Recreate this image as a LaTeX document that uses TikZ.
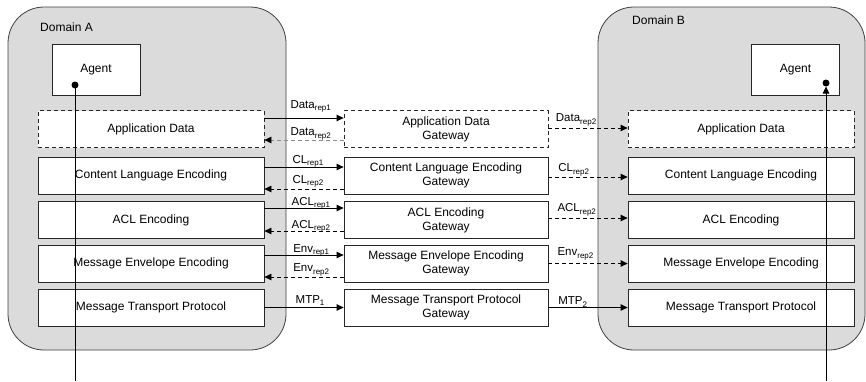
\documentclass[tikz,border=0pt]{standalone}
\usepackage{fontspec}
\setmainfont{Liberation Sans}
\usetikzlibrary{arrows.meta}
% lowered small subscript used in the message labels
\newcommand\rsub[1]{\raisebox{-2.5pt}{\fontsize{8}{8}\selectfont #1}}
\begin{document}
\begin{tikzpicture}[x=1pt,y=-1pt,
  platform/.style={draw=black!75, fill=black!14, line width=0.8pt, rounded corners=36pt},
  domlabel/.style={anchor=west, inner sep=0pt, font=\fontsize{12}{14}\selectfont},
  layer/.style={draw=black!85, fill=white, line width=0.8pt, minimum width=226pt,
    minimum height=37pt, inner sep=0pt, font=\fontsize{12}{14}\selectfont},
  gate/.style={layer, minimum width=204pt, align=center},
  dlayer/.style={dash pattern=on 4pt off 3pt},
  agentbox/.style={draw=black!85, fill=white, line width=0.8pt, minimum width=88pt,
    minimum height=51pt, inner sep=0pt, font=\fontsize{12}{14}\selectfont},
  req/.style={-{Triangle[length=7pt,width=6.5pt]}, line width=0.8pt},
  rep/.style={req, dash pattern=on 4pt off 3pt},
  greyrep/.style={-{Triangle[length=7pt,width=6.5pt,color=black,fill=black]}, line width=0.8pt,
    dash pattern=on 4pt off 3pt, draw=black!45},
  lbl/.style={anchor=base west, inner sep=0pt, font=\fontsize{11.5}{12}\selectfont},
]
\useasboundingbox (0,0) rectangle (866,381);

% the two platform domains
\draw[platform] (8,7) rectangle (286,350);
\draw[platform] (598,7) rectangle (865,350);
\node[domlabel] (dA) at (40,27) {Domain A};
\node[domlabel] (dB) at (632,20.5) {Domain B};

% agents
\node[agentbox] (agA) at (96,69.5) {Agent};
\node[agentbox] (agB) at (795.5,69.5) {Agent};

% protocol stack of domain A
\node[layer, dlayer] (appA) at (151,129) {Application Data};
\node[layer] (clA)  at (151,175.5) {Content Language Encoding};
\node[layer] (aclA) at (151,220) {ACL Encoding};
\node[layer] (envA) at (151,263.5) {Message Envelope Encoding};
\node[layer] (mtpA) at (151,307.5) {Message Transport Protocol};

% gateways
\node[gate, dlayer] (appG) at (446,129) {Application Data\\Gateway};
\node[gate] (clG)  at (446,175.5) {Content Language Encoding\\Gateway};
\node[gate] (aclG) at (446,220) {ACL Encoding\\Gateway};
\node[gate] (envG) at (446,263.5) {Message Envelope Encoding\\Gateway};
\node[gate] (mtpG) at (446,307.5) {Message Transport Protocol\\Gateway};

% protocol stack of domain B
\node[layer, dlayer] (appB) at (741,129) {Application Data};
\node[layer] (clB)  at (741,175.5) {Content Language Encoding};
\node[layer] (aclB) at (741,220) {ACL Encoding};
\node[layer] (envB) at (741,263.5) {Message Envelope Encoding};
\node[layer] (mtpB) at (741,307.5) {Message Transport Protocol};

% domain A <-> gateways
\draw[req] ([yshift=11pt]appA.east) -- node[lbl, pos=.325, yshift=10pt] {Data\rsub{rep1}} ([yshift=11pt]appG.west);
\draw[greyrep] ([yshift=-11pt]appG.west) -- node[lbl, pos=.675, yshift=4.3pt] {Data\rsub{rep2}} ([yshift=-11pt]appA.east);
\draw[req] ([yshift=8.5pt]clA.east) -- node[lbl, pos=.35, yshift=4pt] {CL\rsub{rep1}} ([yshift=8.5pt]clG.west);
\draw[rep] ([yshift=-13.5pt]clG.west) -- node[lbl, pos=.65, yshift=5.7pt] {CL\rsub{rep2}} ([yshift=-13.5pt]clA.east);
\draw[req] ([yshift=12pt]aclA.east) -- node[lbl, pos=.34, yshift=3pt] {ACL\rsub{rep1}} ([yshift=12pt]aclG.west);
\draw[rep] ([yshift=-11pt]aclG.west) -- node[lbl, pos=.66, yshift=2.7pt] {ACL\rsub{rep2}} ([yshift=-11pt]aclA.east);
\draw[req] ([yshift=8.5pt]envA.east) -- node[lbl, pos=.36, yshift=3pt] {Env\rsub{rep1}} ([yshift=8.5pt]envG.west);
\draw[rep] ([yshift=-13.5pt]envG.west) -- node[lbl, pos=.64, yshift=5.3pt] {Env\rsub{rep2}} ([yshift=-13.5pt]envA.east);
\draw[req] (mtpA.east) -- node[lbl, pos=.39, yshift=4.3pt] {MTP\rsub{1}} (mtpG.west);

% gateways -> domain B
\draw[rep] ([yshift=1pt]appG.east) -- node[lbl, pos=.09, yshift=6.3pt] {Data\rsub{rep2}} ([yshift=1pt]appB.west);
\draw[rep] ([yshift=-1.5pt]clG.east) -- node[lbl, pos=.12, yshift=5.3pt] {CL\rsub{rep2}} ([yshift=-1.5pt]clB.west);
\draw[rep] ([yshift=2pt]aclG.east) -- node[lbl, pos=.11, yshift=6.3pt] {ACL\rsub{rep2}} ([yshift=2pt]aclB.west);
\draw[rep] (envG.east) -- node[lbl, pos=.11, yshift=8pt] {Env\rsub{rep2}} (envB.west);
\draw[req] (mtpG.east) -- node[lbl, pos=.12, yshift=3pt] {MTP\rsub{2}} (mtpB.west);

% agent message flows through the stacks
\coordinate (dotA) at (75,85);
\coordinate (endA) at (75,381);
\draw[line width=0.8pt] (dotA) -- (endA);
\fill (dotA) circle (3.5pt);
\coordinate (dotB) at (826,83);
\coordinate (endB) at (826,381);
\draw[req] (endB) -- ([yshift=-3.5pt]dotB);
\fill (dotB) circle (3.5pt);
\end{tikzpicture}
\end{document}
